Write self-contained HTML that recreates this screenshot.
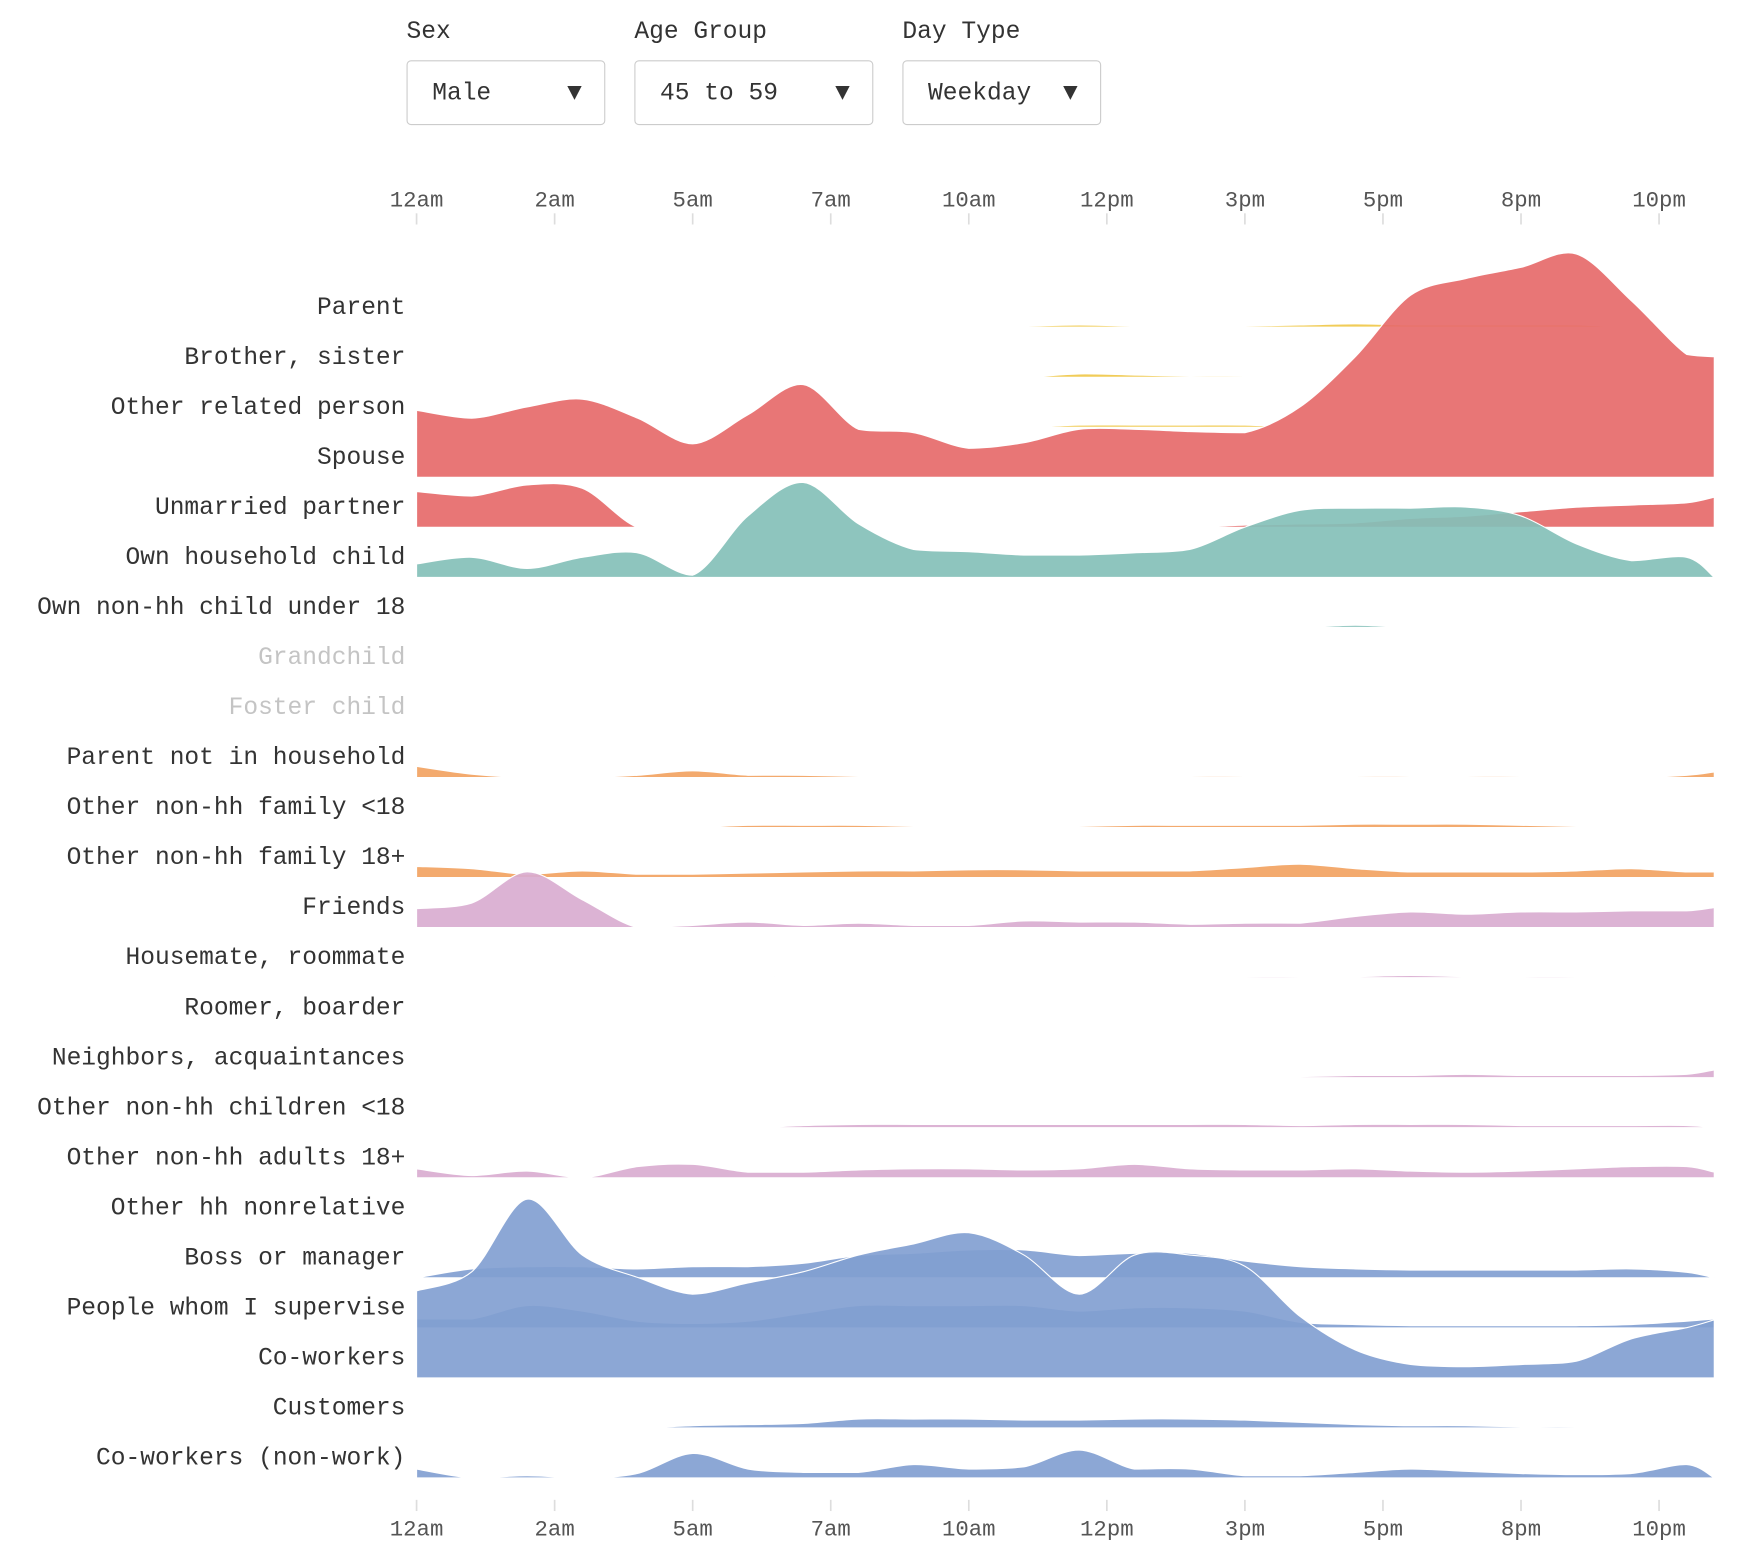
<!DOCTYPE html>
<html><head><meta charset="utf-8">
<style>
html,body{margin:0;padding:0;background:#fff;width:1750px;height:1564px;overflow:hidden}
#wrap{position:absolute;left:0;top:0;width:1570px;height:1400px;transform:scale(1.1168);transform-origin:0 0;font-family:"Liberation Mono",monospace;color:#333}
.lbl{position:absolute;font-size:22px;top:16px}
.dd{position:absolute;top:54px;height:58px;border:1px solid #ccc;border-radius:4px;font-size:22px;line-height:58px;padding-left:22px;box-sizing:border-box}
.dd span{position:absolute;right:20px;top:0}
</style></head><body>
<div id="wrap">
<div class="lbl" style="left:364px">Sex</div>
<div class="lbl" style="left:568px">Age Group</div>
<div class="lbl" style="left:808px">Day Type</div>
<div class="dd" style="left:364px;width:178px">Male<span>▼</span></div>
<div class="dd" style="left:568px;width:214px">45 to 59<span>▼</span></div>
<div class="dd" style="left:808px;width:178px">Weekday<span>▼</span></div>
<svg id="svg" width="1570" height="1400" style="position:absolute;left:0;top:0"></svg>
</div>
<script>
const tickLabels=["12am","2am","5am","7am","10am","12pm","3pm","5pm","8pm","10pm"];
const tickHours=[0,2.5,5,7.5,10,12.5,15,17.5,20,22.5];
const hours=[0,1,2,3,4,5,6,7,8,9,10,11,12,13,14,15,16,17,18,19,20,21,22,23,23.5];
const categories=["Parent","Brother, sister","Other related person","Spouse","Unmarried partner","Own household child","Own non-hh child under 18","Grandchild","Foster child","Parent not in household","Other non-hh family <18","Other non-hh family 18+","Friends","Housemate, roommate","Roomer, boarder","Neighbors, acquaintances","Other non-hh children <18","Other non-hh adults 18+","Other hh nonrelative","Boss or manager","People whom I supervise","Co-workers","Customers","Co-workers (non-work)"];
const colors=["#f0c84a","#f0c84a","#f0c84a","#e66a6a","#e66a6a","#84c0b8","#84c0b8","#84c0b8","#84c0b8","#f2a362","#f2a362","#f2a362","#d9acd0","#d9acd0","#d9acd0","#d9acd0","#d9acd0","#d9acd0","#829fd1","#829fd1","#829fd1","#829fd1","#829fd1","#829fd1"];
const grey=["Grandchild","Foster child"];
const vParent=[0,0,0,0,0,0,0,1,1,1,1,1,2,1,1,1,2,3,2,2,2,2,0,0,0];
const vBrother=[0,0,0,0,0,0,0,0,0,0,0,0,3,2,1,1,0,0,0,0,0,0,0,0,0];
const vOtherRel=[0,0,0,0,0,0,0,0,0,0,0,0,2,2,2,2,0,0,0,0,0,0,0,0,0];
const vSpouse=[60,53,63,70,53,30,56,83,43,40,26,31,43,43,41,40,63,108,163,178,188,200,158,110,108];
const vPartner=[32,28,38,35,0,0,0,0,0,0,0,0,0,0,0,2,3,4,8,10,14,18,20,22,27];
const vOwnChild=[12,18,8,18,22,2,55,85,48,25,23,20,20,22,25,45,60,62,62,63,55,30,15,18,0];
const vNonhhChild=[0,0,0,0,0,0,0,0,0,0,0,0,0,0,0,0,0,2,0,0,0,0,0,0,0];
const vGrand=new Array(25).fill(0);
const vFoster=new Array(25).fill(0);
const vParentNonhh=[10,3,0,0,2,6,2,2,1,1,1,1,1,1,1,1,0,1,1,1,1,0,0,2,5];
const vFam18=[0,0,0,0,0,0,2,2,2,1,1,1,1,2,2,2,2,3,3,3,2,1,0,0,0];
const vFam18p=[10,8,3,6,3,3,4,5,6,6,7,7,6,6,6,9,12,8,5,5,5,6,8,5,5];
const vFriends=[17,22,50,25,0,2,5,2,4,2,2,6,5,5,3,4,4,10,14,12,14,14,15,15,18];
const vHousemate=[0,0,0,0,0,0,0,1,0,0,0,0,0,0,0,1,1,1,2,1,1,1,0,0,0];
const vRoomer=new Array(25).fill(0);
const vNeighbors=[0,0,0,0,0,0,0,1,1,1,1,0,0,0,0,0,1,2,2,3,2,2,2,3,7];
const vChildren=[0,0,0,0,0,0,0,2,3,3,3,3,3,3,3,3,2,3,3,3,2,2,2,2,0];
const vAdults=[8,2,6,0,10,12,5,5,7,8,8,7,8,12,8,7,7,8,6,5,6,8,10,10,5];
const vHhNonrel=new Array(25).fill(0);
const vBoss=[0,8,10,10,8,10,10,13,20,22,25,25,20,22,22,15,10,8,7,7,7,7,8,5,0];
const vSupervise=[8,8,20,15,6,4,6,13,20,20,20,20,15,18,18,15,5,3,2,2,2,2,3,6,8];
const vCoworkers=[78,95,160,110,90,75,85,95,110,120,130,110,75,110,110,100,55,25,12,10,12,15,35,45,52];
const vCustomers=[0,0,0,0,0,2,3,4,8,8,8,7,7,8,8,7,5,3,2,2,1,1,0,0,0];
const vCoNonwork=[8,0,2,0,4,22,8,5,5,12,8,10,25,8,8,2,2,5,8,6,4,3,4,12,0];
const series=[vParent,vBrother,vOtherRel,vSpouse,vPartner,vOwnChild,vNonhhChild,vGrand,vFoster,vParentNonhh,vFam18,vFam18p,vFriends,vHousemate,vRoomer,vNeighbors,vChildren,vAdults,vHhNonrel,vBoss,vSupervise,vCoworkers,vCustomers,vCoNonwork];

const NS="http://www.w3.org/2000/svg";
const svg=document.getElementById('svg');
const X0=373,X1=1535,H0=0,H1=23.5;
function xs(h){return X0+(h-H0)/(H1-H0)*(X1-X0);}
function rowBase(i){return 293+i*44.8;}
function ys(v,i){return rowBase(i)-v;}
function mk(tag,attrs){const e=document.createElementNS(NS,tag);for(const k in attrs)e.setAttribute(k,attrs[k]);return e;}
function smooth(pts){
  let d="M"+pts[0][0]+","+pts[0][1];
  for(let i=0;i<pts.length-1;i++){
    const p0=pts[Math.max(0,i-1)],p1=pts[i],p2=pts[i+1],p3=pts[Math.min(pts.length-1,i+2)];
    const t=0.16;
    let c1y=p1[1]+(p2[1]-p0[1])*t, c2y=p2[1]-(p3[1]-p1[1])*t;
    const lo=Math.max(p1[1],p2[1]);
    c1y=Math.min(c1y,Math.max(lo,p1[1]));c2y=Math.min(c2y,Math.max(lo,p2[1]));
    const c1x=p1[0]+(p2[0]-p0[0])*t, c2x=p2[0]-(p3[0]-p1[0])*t;
    d+=" C"+c1x.toFixed(1)+","+c1y.toFixed(1)+" "+c2x.toFixed(1)+","+c2y.toFixed(1)+" "+p2[0].toFixed(1)+","+p2[1].toFixed(1);
  }
  return d;
}
[[178,1],[1368,0]].forEach(([ty,top])=>{
  const g=mk('g',{});
  
  
  tickLabels.forEach((lab,k)=>{
    const x=xs(tickHours[k]);
    const t=mk('text',{x:x,y:ty+7,'text-anchor':'middle','font-size':'20','fill':'#555','font-family':'"Liberation Mono",monospace'});
    t.textContent=lab;
    
    
    g.appendChild(t);
    const l=mk('line',{x1:x,x2:x,y1:top?191:1343,y2:top?201:1353,stroke:'#ddd','stroke-width':'1.5'});
    
    
    g.appendChild(l);
  });
  svg.appendChild(g);
});
categories.forEach((c,i)=>{
  const t=mk('text',{x:363,y:rowBase(i)-12,'text-anchor':'end','font-size':'22','fill':grey.includes(c)?'#c4c4c4':'#333','font-family':'"Liberation Mono",monospace'});
  t.textContent=c;
  
  
  svg.appendChild(t);
});
categories.forEach((c,i)=>{
  const vals=series[i];
  if(!vals.some(v=>v>0))return;
  const pts=hours.map((h,k)=>[xs(h),ys(vals[k],i)]);
  const d=smooth(pts)+" L"+xs(H1)+","+rowBase(i)+" L"+xs(H0)+","+rowBase(i)+" Z";
  const p=mk('path',{d:d,fill:colors[i],'fill-opacity':'0.92',stroke:'#fff','stroke-width':'1'});
  
  
  svg.appendChild(p);
});
</script>
</body></html>
